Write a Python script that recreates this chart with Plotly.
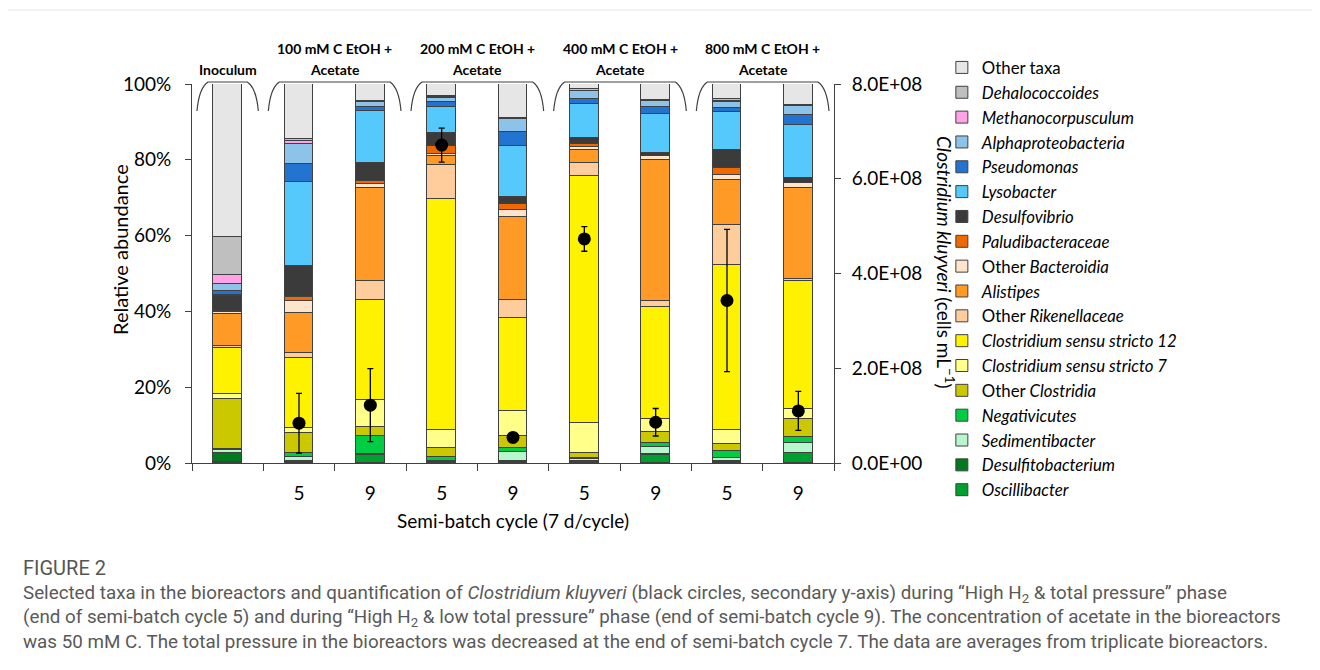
import plotly.graph_objects as go

# ---------------- data ----------------
samples = ["Inoculum", "100-5", "100-9", "200-5", "200-9", "400-5", "400-9", "800-5", "800-9"]
cycle_labels = ["", "5", "9", "5", "9", "5", "9", "5", "9"]
group_line1 = ["", "100 mM C EtOH +", "200 mM C EtOH +", "400 mM C EtOH +", "800 mM C EtOH +"]
group_line2 = ["Inoculum", "Acetate", "Acetate", "Acetate", "Acetate"]
y_ticks = [0, 20, 40, 60, 80, 100]
y_ticktext = ["0%", "20%", "40%", "60%", "80%", "100%"]
y2_ticks = [0, 2e8, 4e8, 6e8, 8e8]
y2_ticktext = ["0.0E+00", "2.0E+08", "4.0E+08", "6.0E+08", "8.0E+08"]

# relative abundance (%) per taxon, bottom of stack first
oscillibacter       = [0.2, 0.2, 2.0, 0.2, 0.2, 0.2, 2.2, 0.3, 2.6]
desulfitobacterium  = [2.4, 0.2, 0.3, 0.2, 0.2, 0.2, 0.1, 0.1, 0.1]
sedimentibacter     = [0.9, 1.3, 0.1, 0.1, 2.5, 0.6, 2.0, 0.8, 2.6]
negativicutes       = [0.1, 1.0, 4.6, 1.1, 1.0, 0.2, 0.9, 2.0, 1.5]
other_clostridia    = [13.4, 5.3, 2.5, 2.4, 3.3, 1.4, 2.9, 1.9, 4.8]
css7                = [1.1, 1.3, 7.2, 4.8, 6.4, 7.9, 3.4, 3.6, 2.7]
css12               = [12.2, 18.3, 26.2, 60.9, 24.6, 65.3, 29.7, 43.5, 33.6]
other_rikenellaceae = [0.7, 1.3, 5.1, 8.9, 4.7, 3.3, 1.6, 10.7, 0.7]
alistipes           = [8.4, 10.6, 24.6, 2.4, 21.9, 3.5, 37.2, 11.9, 23.9]
other_bacteroidia   = [0.4, 3.3, 0.9, 0.6, 2.0, 0.7, 0.9, 1.1, 1.3]
paludibacteraceae   = [0.3, 1.1, 0.9, 2.0, 1.6, 0.9, 0.2, 2.0, 0.2]
desulfovibrio       = [4.0, 8.2, 4.8, 3.5, 1.8, 1.5, 0.7, 4.8, 1.1]
lysobacter          = [0.3, 22.0, 13.6, 6.9, 13.4, 9.1, 10.3, 9.9, 14.2]
pseudomonas         = [1.1, 4.7, 1.1, 1.2, 3.7, 1.3, 1.9, 1.1, 2.6]
alphaproteobacteria = [1.8, 5.5, 1.3, 1.1, 3.5, 2.0, 1.6, 1.5, 2.3]
methanocorpusculum  = [2.4, 0.6, 0.1, 0.3, 0.1, 0.1, 0.1, 0.4, 0.1]
dehalococcoides     = [9.9, 0.5, 0.1, 0.3, 0.1, 0.4, 0.1, 0.4, 0.1]
other_taxa          = [40.4, 14.6, 4.6, 3.1, 9.0, 1.4, 4.2, 4.0, 5.6]

# Clostridium kluyveri (cells/mL), mean and error
kluyveri_x   = [1, 2, 3, 4, 5, 6, 7, 8]
kluyveri     = [0.84e8, 1.22e8, 6.71e8, 0.54e8, 4.73e8, 0.86e8, 3.43e8, 1.10e8]
kluyveri_err = [0.63e8, 0.77e8, 0.36e8, 0.07e8, 0.26e8, 0.29e8, 1.50e8, 0.41e8]

taxa = [
    ("<i>Oscillibacter</i>", oscillibacter, "#00A030"),
    ("<i>Desulfitobacterium</i>", desulfitobacterium, "#007A1E"),
    ("<i>Sedimentibacter</i>", sedimentibacter, "#B6F7CC"),
    ("<i>Negativicutes</i>", negativicutes, "#00CC44"),
    ("Other <i>Clostridia</i>", other_clostridia, "#CCC800"),
    ("<i>Clostridium sensu stricto 7</i>", css7, "#FFFF8A"),
    ("<i>Clostridium sensu stricto 12</i>", css12, "#FFF200"),
    ("Other <i>Rikenellaceae</i>", other_rikenellaceae, "#FFCC9C"),
    ("<i>Alistipes</i>", alistipes, "#FF9A26"),
    ("Other <i>Bacteroidia</i>", other_bacteroidia, "#FFE4CC"),
    ("<i>Paludibacteraceae</i>", paludibacteraceae, "#F06800"),
    ("<i>Desulfovibrio</i>", desulfovibrio, "#3B3B3B"),
    ("<i>Lysobacter</i>", lysobacter, "#55C8FC"),
    ("<i>Pseudomonas</i>", pseudomonas, "#2373D0"),
    ("<i>Alphaproteobacteria</i>", alphaproteobacteria, "#8DC3E8"),
    ("<i>Methanocorpusculum</i>", methanocorpusculum, "#FFA3E6"),
    ("<i>Dehalococcoides</i>", dehalococcoides, "#BFBFBF"),
    ("Other taxa", other_taxa, "#E7E6E6"),
]

FONT = "Lato"
AX = "#404040"
x_pos = list(range(len(samples)))

fig = go.Figure()
for name, vals, col in taxa:
    fig.add_trace(go.Bar(
        x=x_pos, y=vals, name=name, width=0.4,
        marker=dict(color=col, line=dict(color="#404040", width=1)),
    ))

fig.add_trace(go.Scatter(
    x=kluyveri_x, y=kluyveri, yaxis="y2", mode="markers", showlegend=False,
    marker=dict(color="black", size=13),
    error_y=dict(type="data", array=kluyveri_err, color="black", thickness=1.3, width=3),
))

# page body has an 8px margin: plot area spans screen x 192..834, y 84..463
fig.update_layout(
    width=1320, height=670, autosize=False,
    margin=dict(l=184, r=494, t=76, b=215, autoexpand=False),
    paper_bgcolor="white", plot_bgcolor="white",
    barmode="stack", bargap=0,
    font=dict(family=FONT, color="#000000", size=19),
    legend=dict(x=1.168, y=(463 - 50) / 379, xanchor="left", yanchor="top", maxheight=600,
                traceorder="reversed", font=dict(family=FONT, size=16.8, color="#000"),
                itemwidth=30, tracegroupgap=0, bgcolor="rgba(0,0,0,0)"),
    xaxis=dict(range=[-0.5, 8.5], tickmode="array", tickvals=x_pos, ticktext=cycle_labels,
               ticks="", showline=True, linecolor=AX, linewidth=1, showgrid=False, zeroline=False,
               ticklabelstandoff=13, tickfont=dict(size=19),
               minor=dict(ticks="outside", tickmode="array",
                          tickvals=[i - 0.5 for i in range(len(samples) + 1)],
                          ticklen=7, tickcolor=AX, tickwidth=1)),
    yaxis=dict(range=[0, 100], tickmode="array", tickvals=y_ticks, ticktext=y_ticktext,
               ticks="outside", ticklen=6, tickcolor=AX, showline=True, linecolor=AX,
               linewidth=1, showgrid=False, zeroline=False, ticklabelstandoff=10,
               tickfont=dict(size=19)),
    yaxis2=dict(range=[0, 8e8], overlaying="y", side="right", tickmode="array",
                tickvals=y2_ticks, ticktext=y2_ticktext,
                ticks="outside", ticklen=6, tickcolor=AX, showline=True, linecolor=AX,
                linewidth=1, showgrid=False, zeroline=False, ticklabelstandoff=7,
                tickfont=dict(size=19)),
)

# ---- helper: screen pixel -> paper coords ----
PL, PR, PT, PB = 192, 834, 84, 463
def px(xp):
    return (xp - PL) / (PR - PL)
def py(yp):
    return (PB - yp) / (PB - PT)

annotations = []
annotations.append(dict(x=px(120), y=py(250), xref="paper", yref="paper", text="Relative abundance",
                        xanchor="center", yanchor="middle",
                        textangle=-90, showarrow=False, font=dict(size=20, family=FONT)))
annotations.append(dict(x=px(945), y=py(262), xref="paper", yref="paper",
                        xanchor="center", yanchor="middle",
                        text="<i>Clostridium kluyveri</i> (cells mL<sup>−1</sup>)",
                        textangle=90, showarrow=False, font=dict(size=19, family=FONT)))
annotations.append(dict(x=0.5, y=py(520), xref="paper", yref="paper",
                        xanchor="center", yanchor="middle",
                        text="Semi-batch cycle (7 d/cycle)", showarrow=False,
                        font=dict(size=19, family=FONT)))

# group headers and brackets
groups = [(0, 0), (1, 2), (3, 4), (5, 6), (7, 8)]
shapes = []
cw = (PR - PL) / len(samples)
for (a, b), l1, l2 in zip(groups, group_line1, group_line2):
    left = PL + a * cw + 7
    right = PL + (b + 1) * cw - 7
    center = (left + right) / 2
    if l1:
        annotations.append(dict(x=px(center), y=py(48), xref="paper", yref="paper",
                                xanchor="center", yanchor="middle",
                                text="<b>" + l1 + "</b>", showarrow=False,
                                font=dict(size=14, family=FONT)))
    annotations.append(dict(x=px(center), y=py(70), xref="paper", yref="paper",
                            xanchor="center", yanchor="middle",
                            text="<b>" + l2 + "</b>", showarrow=False,
                            font=dict(size=14, family=FONT)))
    top, bot, r = 82, 111, 9
    path = (f"M {px(left - 2)},{py(bot)} "
            f"Q {px(left)},{py(top + 6)} {px(left + r)},{py(top)} "
            f"L {px(right - r)},{py(top)} "
            f"Q {px(right)},{py(top + 6)} {px(right + 2)},{py(bot)}")
    shapes.append(dict(type="path", path=path, xref="paper", yref="paper",
                       line=dict(color="#404040", width=1.2)))

# caption
annotations.append(dict(x=px(21), y=py(568), xref="paper", yref="paper",
                        xanchor="left", yanchor="middle", text="FIGURE 2", showarrow=False,
                        font=dict(size=20, family="Roboto", color="#555555")))
cap_lines = [
    "Selected taxa in the bioreactors and quantification of <i>Clostridium kluyveri</i> (black circles, secondary y-axis) during “High H<sub>2</sub> & total pressure” phase",
    "(end of semi-batch cycle 5) and during “High H<sub>2</sub> & low total pressure” phase (end of semi-batch cycle 9). The concentration of acetate in the bioreactors",
    "was 50 mM C. The total pressure in the bioreactors was decreased at the end of semi-batch cycle 7. The data are averages from triplicate bioreactors.",
]
annotations.append(dict(x=px(21), y=py(580), xref="paper", yref="paper",
                        xanchor="left", yanchor="top", align="left",
                        text="<br>".join(cap_lines), showarrow=False,
                        font=dict(size=18.8, family="Roboto", color="#595959")))

shapes.append(dict(type="line", xref="paper", yref="paper", x0=px(0), x1=px(1320),
                   y0=py(10), y1=py(10), line=dict(color="#E6E6E6", width=1)))

fig.update_layout(annotations=annotations, shapes=shapes)
fig.write_html("out.html")
